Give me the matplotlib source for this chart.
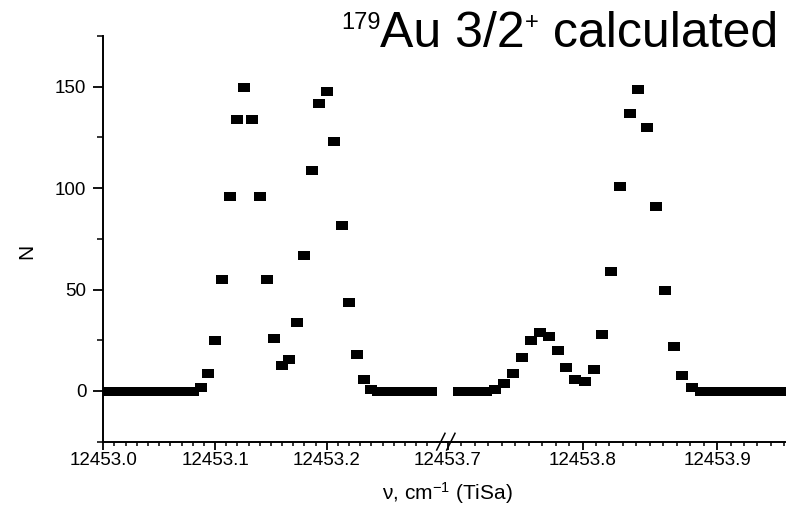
import matplotlib
matplotlib.use('Agg')
import matplotlib.pyplot as plt
from matplotlib.lines import Line2D
from matplotlib.ticker import FixedLocator, MultipleLocator, FormatStrFormatter

plt.rcParams['font.family'] = ['Liberation Sans', 'DejaVu Sans']
plt.rcParams['mathtext.fontset'] = 'custom'
plt.rcParams['mathtext.rm'] = 'Liberation Sans'
plt.rcParams['mathtext.it'] = 'Liberation Sans:italic'

# left part of the scan (wavenumber, counts)
nu_left = [12453.0001, 12453.0068, 12453.0135, 12453.0202, 12453.0269, 12453.0336,
           12453.0403, 12453.0470, 12453.0537, 12453.0604, 12453.0671, 12453.0738,
           12453.0805, 12453.0872, 12453.0935, 12453.1003, 12453.1066, 12453.1138,
           12453.1200, 12453.1263, 12453.1334, 12453.1400, 12453.1468, 12453.1531,
           12453.1603, 12453.1665, 12453.1737, 12453.1797, 12453.1868, 12453.1931,
           12453.2006, 12453.2065, 12453.2137, 12453.2197, 12453.2271, 12453.2331,
           12453.2394, 12453.2461, 12453.2528, 12453.2595, 12453.2662, 12453.2729,
           12453.2796, 12453.2863, 12453.2930]
n_left = [0, 0, 0, 0, 0, 0, 0, 0, 0, 0, 0, 0, 0,
          2, 9, 25, 55, 96, 134, 150, 134, 96, 55, 26, 13, 16, 34, 67, 109, 142,
          148, 123, 82, 44, 18, 6, 1,
          0, 0, 0, 0, 0, 0, 0, 0]

# right part of the scan
nu_right = [12453.7082, 12453.7149, 12453.7216, 12453.7283, 12453.7349, 12453.7416,
            12453.7486, 12453.7548, 12453.7615, 12453.7684, 12453.7751, 12453.7820,
            12453.7880, 12453.7946, 12453.8016, 12453.8083, 12453.8145, 12453.8214,
            12453.8281, 12453.8351, 12453.8410, 12453.8477, 12453.8546, 12453.8616,
            12453.8683, 12453.8742, 12453.8812, 12453.8879, 12453.8946, 12453.9013,
            12453.9080, 12453.9147, 12453.9214, 12453.9281, 12453.9348, 12453.9415,
            12453.9482]
n_right = [0, 0, 0, 0,
           1, 4, 9, 17, 25, 29, 27, 20, 12, 6, 5, 11, 28, 59, 101, 137, 149, 130,
           91, 50, 22, 8, 2,
           0, 0, 0, 0, 0, 0, 0, 0, 0, 0]

left_ticks = [12453.0, 12453.1, 12453.2]
right_ticks = [12453.7, 12453.8, 12453.9]
y_ticks = [0, 50, 100, 150]

W, H = 796, 511
fig = plt.figure(figsize=(W / 100, H / 100), dpi=100)

def px(x, y):
    return x / W, 1 - y / H

ax_bot, ax_top = 441.7, 36
ax1 = fig.add_axes([103.3 / W, 1 - ax_bot / H, (437 - 103.3) / W, (ax_bot - ax_top) / H])
ax2 = fig.add_axes([446 / W, 1 - ax_bot / H, (785 - 446) / W, (ax_bot - ax_top) / H])

rect = [(-1.25, -1), (1.25, -1), (1.25, 1), (-1.25, 1), (-1.25, -1)]
for ax, nu, n in [(ax1, nu_left, n_left), (ax2, nu_right, n_right)]:
    ax.plot(nu, n, linestyle='none', marker=rect, markersize=8.1,
            color='black', markeredgewidth=0)
    ax.set_ylim(-25, 175)
    for s in ['top', 'right']:
        ax.spines[s].set_visible(False)
    ax.spines['bottom'].set_linewidth(1.4)
    ax.spines['left'].set_linewidth(1.4)
    ax.xaxis.set_major_formatter(FormatStrFormatter('%.1f'))
    ax.xaxis.set_minor_locator(MultipleLocator(0.01))
    ax.tick_params(axis='x', which='major', length=5.8, width=1.3, pad=1.5,
                   labelsize=13.5, direction='out')
    ax.tick_params(axis='x', which='minor', length=2.9, width=1.1, direction='out')

ax1.set_xlim(12453.0, 12453.2987)
ax1.xaxis.set_major_locator(FixedLocator(left_ticks))
ax1.yaxis.set_major_locator(FixedLocator(y_ticks))
ax1.yaxis.set_minor_locator(MultipleLocator(25))
ax1.tick_params(axis='y', which='major', length=7.2, width=1.3, pad=5, labelsize=13.5)
ax1.tick_params(axis='y', which='minor', length=4.3, width=1.1)

ax2.set_xlim(12453.6985, 12453.9505)
ax2.xaxis.set_major_locator(FixedLocator(right_ticks))
ax2.spines['left'].set_visible(False)
ax2.set_yticks([])

# axis break
for x0 in [436.7, 446.7]:
    (a, b), (c, d) = px(x0, 450), px(x0 + 8.3, 433.3)
    fig.add_artist(Line2D([a, c], [b, d], color='black', lw=1.1, transform=fig.transFigure))
(a, b), (c, d) = px(437, ax_bot), px(446, ax_bot)
fig.add_artist(Line2D([a, c], [b, d], color='black', lw=1.4, transform=fig.transFigure))

fig.text(*px(27, 251.7), 'N', rotation=90, ha='center', va='center', fontsize=15)
fig.text(*px(447, 493), r'ν, cm$^{-1}$ (TiSa)', ha='center', va='center', fontsize=15)

# title built from pieces so the superscripts can be small, right end at 778 px
renderer = fig.canvas.get_renderer()
base_y = 47
sup_y = base_y - 18
pieces = [('179', 17, sup_y), ('Au 3/2', 36, base_y), ('+', 17, sup_y),
          (' calculated', 36, base_y)]
texts = [fig.text(0, 0, txt, fontsize=size, ha='left', va='baseline')
         for txt, size, _ in pieces]
widths = [t.get_window_extent(renderer).width for t in texts]
x = 778 - sum(widths)
for t, (_, _, y), w in zip(texts, pieces, widths):
    t.set_position(px(x, y))
    x += w

fig.savefig('out.png', dpi=100)
